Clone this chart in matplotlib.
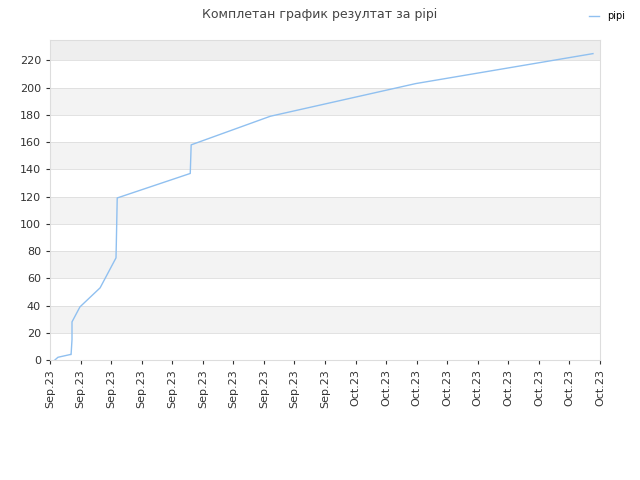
import matplotlib.pyplot as plt

# x in tick units (one unit per date label), y = score
xs = [0.16, 0.26, 0.66, 0.69, 0.72, 0.72, 0.98, 1.64, 2.16, 2.17, 2.2, 4.59, 4.62, 7.21, 11.97, 17.77]
ys = [0, 2, 4, 4, 15, 28, 39, 53, 75, 85, 119, 137, 158, 179, 203, 225]
tick_labels = ["Sep.23"] * 10 + ["Oct.23"] * 9

fig = plt.figure(figsize=(6.4, 4.8), dpi=100)
ax = fig.add_axes([50/640, 120/480, 550/640, 320/480])

ymax = 235
for i, lo in enumerate(range(0, 240, 20)):
    if i % 2 == 1:
        c = "#eeeeee" if lo >= 220 else "#f3f3f3"
        ax.axhspan(lo, min(lo + 20, ymax), color=c, zorder=0, lw=0)
for v in range(20, 240, 20):
    ax.axhline(v, color="#dddddd", lw=0.6, zorder=1)

ax.plot(xs, ys, color="#90c0f0", lw=1, label="pipi", zorder=2)
ax.set_xlim(0, 18)
ax.set_ylim(0, ymax)
ax.set_xticks(range(19))
ax.set_xticklabels(tick_labels, rotation=90, fontsize=8, color="#333333")
ax.set_yticks(range(0, 240, 20))
ax.tick_params(axis="y", labelsize=8, colors="#333333", length=3)
ax.tick_params(axis="x", length=3, colors="#333333")
for s in ax.spines.values():
    s.set_color("#dddddd")

fig.text(0.5, 0.97, "Комплетан график резултат за pipi", ha="center", va="center",
         fontsize=9, color="#444444")
fig.legend(loc="upper right", bbox_to_anchor=(0.99, 0.995), frameon=False,
           fontsize=7, handlelength=1)
fig.savefig("out.png")
